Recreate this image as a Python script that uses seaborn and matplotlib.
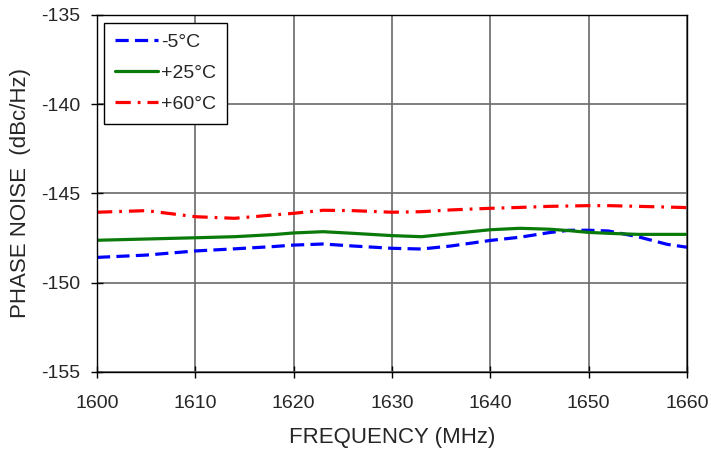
import seaborn as sns
import matplotlib.pyplot as plt
import numpy as np
import pandas as pd

# frecuencias (MHz)
freq = [1600, 1605, 1610, 1614, 1618, 1620, 1623, 1626, 1630, 1633,
        1636, 1640, 1643, 1646, 1648, 1650, 1652, 1655, 1658, 1660]

# ruido de fase (dBc/Hz) para cada temperatura
pn_m5 = [-148.58, -148.45, -148.22, -148.10, -147.97, -147.89, -147.83, -147.94, -148.07, -148.11,
         -147.94, -147.63, -147.45, -147.19, -147.06, -147.06, -147.10, -147.42, -147.85, -148.01]
pn_p25 = [-147.62, -147.55, -147.48, -147.42, -147.30, -147.21, -147.14, -147.23, -147.36, -147.42,
          -147.25, -147.03, -146.95, -147.00, -147.08, -147.18, -147.23, -147.29, -147.29, -147.29]
pn_p60 = [-146.05, -145.96, -146.30, -146.39, -146.20, -146.11, -145.94, -145.96, -146.05, -146.02,
          -145.92, -145.83, -145.78, -145.72, -145.70, -145.68, -145.68, -145.72, -145.76, -145.79]

series = ['-5°C', '+25°C', '+60°C']
x_ticks = [1600, 1610, 1620, 1630, 1640, 1650, 1660]
y_ticks = [-155, -150, -145, -140, -135]

df = pd.DataFrame({
    'freq': freq * 3,
    'pn': pn_m5 + pn_p25 + pn_p60,
    'temp': [series[0]] * len(freq) + [series[1]] * len(freq) + [series[2]] * len(freq),
})

sns.set_style('white')
plt.rcParams['font.family'] = ['Liberation Sans', 'DejaVu Sans']
plt.rcParams['lines.scale_dashes'] = False
plt.rcParams['axes.unicode_minus'] = False  # guion normal como en el original

fig = plt.figure(figsize=(7.11, 4.49), dpi=100)
ax = fig.add_axes([0.1364, 0.1715, 0.9662 - 0.1364, 0.9666 - 0.1715])

colores = {series[0]: '#0000ff', series[1]: '#0a7a0a', series[2]: '#ff0000'}
estilos = {series[0]: (9.5, 4.5), series[1]: '', series[2]: (11, 5, 2, 5)}

sns.lineplot(data=df, x='freq', y='pn', hue='temp', style='temp',
             palette=colores, dashes=estilos, linewidth=2.3, ax=ax)

ax.set_xlim(1600, 1660)
ax.set_ylim(-155, -135)
ax.set_xticks(x_ticks)
ax.set_yticks(y_ticks)
ax.grid(True, color='#6a6a6a', linewidth=1.2)
ax.set_axisbelow(True)
for s in ax.spines.values():
    s.set_color('black')
    s.set_linewidth(1.0)
ax.tick_params(axis='both', direction='inout', length=8.5, width=1, labelsize=14,
               color='black', left=True, bottom=True)
ax.tick_params(axis='x', pad=12)
ax.tick_params(axis='y', pad=8)

ax.set_xlabel('FREQUENCY (MHz)', fontsize=16, labelpad=11)
ax.set_ylabel('PHASE NOISE  (dBc/Hz)', fontsize=16, labelpad=7)

handles, labels = ax.get_legend_handles_labels()
leg = ax.legend(handles, labels, loc='upper left', bbox_to_anchor=(0.012, 0.978),
                borderaxespad=0, fontsize=14, frameon=True, fancybox=False,
                edgecolor='black', framealpha=1, handlelength=2.2, handletextpad=0.2,
                labelspacing=0.68, borderpad=0.55)
leg.get_frame().set_linewidth(1.0)

plt.savefig('out.png', dpi=100)
